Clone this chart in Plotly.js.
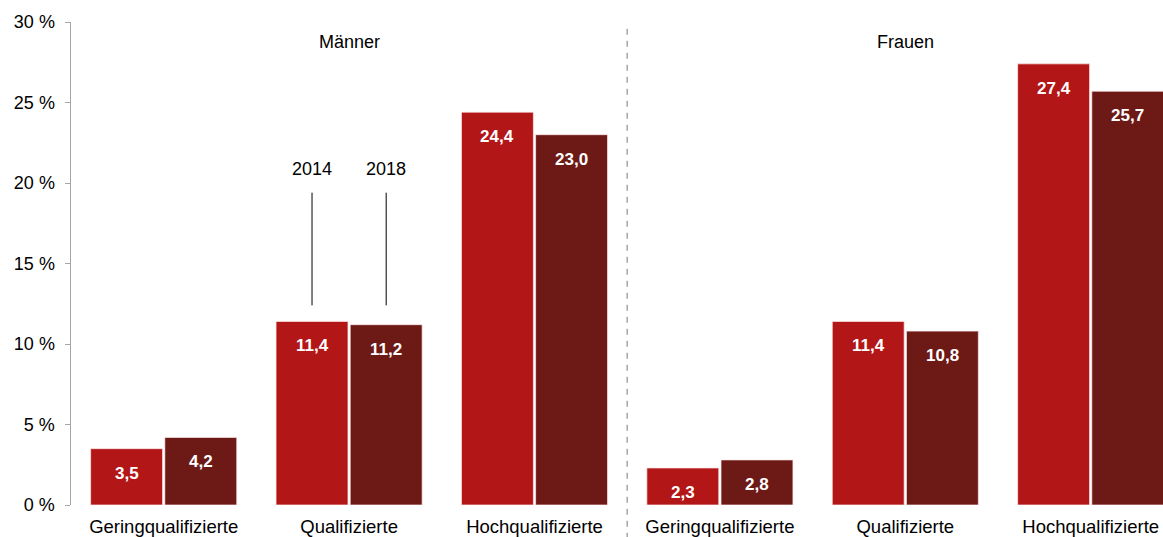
<!DOCTYPE html>
<html><head><meta charset="utf-8">
<script src="https://cdn.plot.ly/plotly-3.0.1.min.js"></script>
<style>html,body{margin:0;padding:0;background:#fff}#chart{width:1163px;height:537px}</style>
</head><body><div id="chart"></div>
<script>
const categories = ["Geringqualifizierte","Qualifizierte","Hochqualifizierte","Geringqualifizierte","Qualifizierte","Hochqualifizierte"];
const groups = ["Männer","Frauen"];
const years = ["2014","2018"];
const values2014 = [3.5, 11.4, 24.4, 2.3, 11.4, 27.4];
const values2018 = [4.2, 11.2, 23.0, 2.8, 10.8, 25.7];
const yTicks = [0,5,10,15,20,25,30];

const colors = ["#B31616","#6D1A16"];
const FONT = "Liberation Sans, Arial, sans-serif";
const xs = categories.map((c,i)=>i);
const barW = 0.388, gapW = 0.012;
const offs = [-(barW+gapW/2), gapW/2];
const fmt = v => v.toFixed(1).replace('.', ',');

const traces = [values2014, values2018].map((vals, k) => ({
  type: 'bar', x: xs, y: vals, name: years[k],
  width: barW, offset: offs[k],
  marker: {color: colors[k], line: {color: 'rgba(255,235,235,0.7)', width: 1}},
  hoverinfo: 'skip', showlegend: false
}));

const annotations = [];
[values2014, values2018].forEach((vals, k) => {
  vals.forEach((v, i) => {
    annotations.push({
      x: i + offs[k] + barW/2, y: v, xref: 'x', yref: 'y',
      text: '<b>' + fmt(v) + '</b>', showarrow: false,
      yanchor: 'top', yshift: -13,
      font: {family: FONT, size: 17, color: '#ffffff'}
    });
  });
});
// group titles
annotations.push({x: 1, y: 0.958, xref: 'x', yref: 'paper', yanchor: 'middle', text: groups[0], showarrow: false, font: {family: FONT, size: 18, color: '#000'}});
annotations.push({x: 4, y: 0.958, xref: 'x', yref: 'paper', yanchor: 'middle', text: groups[1], showarrow: false, font: {family: FONT, size: 18, color: '#000'}});
// year labels
const shapes = [];
years.forEach((yr, k) => {
  const xc = 1 + offs[k] + barW/2;
  annotations.push({x: xc, y: 20.9, xref: 'x', yref: 'y', yanchor: 'middle', text: yr, showarrow: false, font: {family: FONT, size: 18, color: '#000'}});
  shapes.push({type: 'line', xref: 'x', yref: 'y', x0: xc, x1: xc, y0: 12.4, y1: 19.4, line: {color: '#000', width: 1}});
});
// separator
shapes.push({type: 'line', xref: 'x', yref: 'paper', x0: 2.5, x1: 2.5, y0: -0.07, y1: 0.988, line: {color: '#A6A6A6', width: 1.5, dash: '6px,6px'}});

const layout = {
  width: 1163, height: 537,
  margin: {l: 71, r: 0, t: 22, b: 32},
  paper_bgcolor: '#fff', plot_bgcolor: '#fff',
  barmode: 'group',
  xaxis: {
    range: [-0.5, 5.39], tickvals: xs, ticktext: categories,
    showgrid: false, zeroline: false, showline: false, ticks: '',
    ticklabelstandoff: 8,
    tickfont: {family: FONT, size: 18.5, color: '#000'}, fixedrange: true
  },
  yaxis: {
    range: [0, 30], tickvals: yTicks, ticktext: yTicks.map(t => t + ' %'),
    showgrid: false, zeroline: false, showline: true, linecolor: '#A6A6A6', linewidth: 1.5,
    ticks: 'outside', ticklen: 5, tickcolor: '#A6A6A6', tickwidth: 1,
    ticklabelstandoff: 6,
    tickfont: {family: FONT, size: 18, color: '#000'}, fixedrange: true
  },
  annotations: annotations, shapes: shapes
};
Plotly.newPlot('chart', traces, layout, {displayModeBar: false, staticPlot: true});
</script></body></html>
